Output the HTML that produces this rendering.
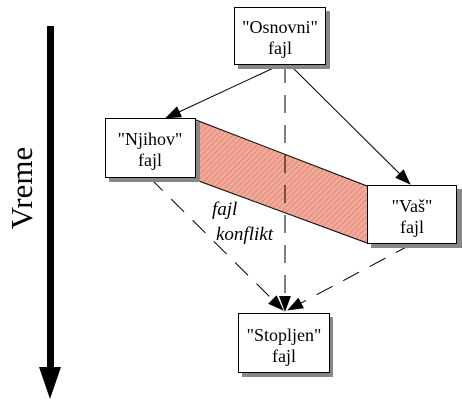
<!DOCTYPE html>
<html><head><style>body{margin:0;background:#fff}svg{display:block}</style></head>
<body>
<svg width="462" height="413" viewBox="0 0 462 413" xmlns="http://www.w3.org/2000/svg" font-family="'Liberation Serif', serif">
<defs>
<pattern id="h" width="4" height="4" patternUnits="userSpaceOnUse" patternTransform="rotate(45)">
<rect width="4" height="4" fill="#f4a898"/><line x1="0" y1="0" x2="0" y2="4" stroke="#c07868" stroke-width="1"/>
</pattern>
<marker id="b" markerWidth="16" markerHeight="12" refX="15" refY="6" orient="auto" markerUnits="userSpaceOnUse"><path d="M0,0 L16,6 L0,12z" fill="#000"/></marker>
</defs>
<rect x="47" y="26" width="7" height="342" fill="#000"/>
<path d="M39,367 L61,367 L50,399z" fill="#000"/>
<text transform="translate(32,188) rotate(-90)" font-size="31" text-anchor="middle" font-family="'Liberation Serif', serif">Vreme</text>
<path d="M196,120 L367,186 L367,243 L196,180z" fill="url(#h)"/>
<path d="M196,120 L367,186 M196,180 L367,243" stroke="#000" stroke-width="1"/>
<line x1="280" y1="65" x2="166" y2="118" stroke="#000" marker-end="url(#b)"/>
<line x1="290" y1="65" x2="410" y2="184" stroke="#000" marker-end="url(#b)"/>
<line x1="285" y1="65" x2="285" y2="311" stroke="#000" stroke-dasharray="18,12" marker-end="url(#b)"/>
<line x1="150" y1="178" x2="283" y2="310" stroke="#000" stroke-dasharray="18,12" marker-end="url(#b)"/>
<line x1="412" y1="244" x2="288" y2="310" stroke="#000" stroke-dasharray="18,12" marker-end="url(#b)"/>
<rect x="238" y="11" width="92" height="58" fill="#888"/>
<rect x="234.5" y="7.5" width="91" height="57" fill="#fff" stroke="#000"/>
<rect x="109" y="122" width="91" height="60" fill="#888"/>
<rect x="105.5" y="118.5" width="90" height="59" fill="#fff" stroke="#000"/>
<rect x="371" y="189" width="91" height="59" fill="#888"/>
<rect x="367.5" y="185.5" width="89" height="58" fill="#fff" stroke="#000"/>
<rect x="242" y="317" width="91" height="60" fill="#888"/>
<rect x="238.5" y="313.5" width="91" height="59" fill="#fff" stroke="#000"/>
<g font-size="18" text-anchor="middle" font-family="'Liberation Serif', serif">
<text x="280" y="33" font-family="'Liberation Serif', serif">"Osnovni"</text><text x="280" y="54" font-family="'Liberation Serif', serif">fajl</text>
<text x="150" y="145" font-family="'Liberation Serif', serif">"Njihov"</text><text x="150" y="166" font-family="'Liberation Serif', serif">fajl</text>
<text x="412" y="212" font-family="'Liberation Serif', serif">"Vaš"</text><text x="412" y="233" font-family="'Liberation Serif', serif">fajl</text>
<text x="284" y="341" font-family="'Liberation Serif', serif">"Stopljen"</text><text x="284" y="362" font-family="'Liberation Serif', serif">fajl</text>
</g>
<g font-size="19" font-style="italic" font-family="'Liberation Serif', serif">
<text x="212" y="215" font-family="'Liberation Serif', serif">fajl</text><text x="216" y="240" font-family="'Liberation Serif', serif">konflikt</text>
</g>
</svg>
</body></html>
